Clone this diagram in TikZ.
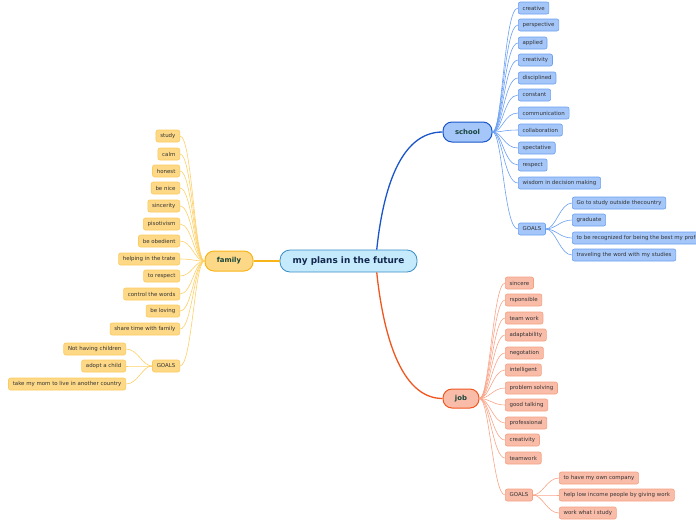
\documentclass[tikz,border=0pt]{standalone}
\usepackage{fontspec}
\setmainfont{DejaVu Sans}
\usetikzlibrary{calc}
\definecolor{sfill}{HTML}{A4C6F9}
\definecolor{sdraw}{HTML}{6AA0F0}
\definecolor{sline}{HTML}{6A9FF2}
\definecolor{smain}{HTML}{1A56C9}
\definecolor{jfill}{HTML}{F9BCA9}
\definecolor{jdraw}{HTML}{F5A081}
\definecolor{jline}{HTML}{F9A489}
\definecolor{jmain}{HTML}{F0561F}
\definecolor{ffill}{HTML}{FDD886}
\definecolor{fdraw}{HTML}{FBCB5E}
\definecolor{fline}{HTML}{FDD068}
\definecolor{fmain}{HTML}{F8B51A}
\definecolor{cfill}{HTML}{C4EAFB}
\definecolor{cdraw}{HTML}{3A8EC6}
\definecolor{ctext}{HTML}{14284F}
\definecolor{mtext}{HTML}{17453A}
\definecolor{ltext}{HTML}{333333}
\tikzset{
  leaf/.style={rounded corners=2pt, line width=0.6pt, minimum height=12pt, inner xsep=4.3pt, inner ysep=0pt, font=\fontsize{5.45}{6}\selectfont, text=ltext},
  sleaf/.style={leaf, draw=sdraw, fill=sfill, anchor=west},
  jleaf/.style={leaf, draw=jdraw, fill=jfill, anchor=west},
  fleaf/.style={leaf, draw=fdraw, fill=ffill, anchor=east},
  mainbox/.style={rounded corners=9pt, line width=1pt, minimum height=20pt, inner sep=0pt, font=\fontsize{6.9}{8}\bfseries, text=mtext},
  slink/.style={draw=sline, line width=0.6pt},
  jlink/.style={draw=jline, line width=0.6pt},
  flink/.style={draw=fline, line width=0.6pt},
}
\begin{document}
\begin{tikzpicture}[x=1pt,y=1pt]
\useasboundingbox (0,0) rectangle (696,-520);
\clip (0,0) rectangle (696,-520);
% root
\node[rounded corners=10pt, draw=cdraw, fill=cfill, line width=0.8pt, minimum width=137pt, minimum height=22pt, inner sep=0pt, font=\fontsize{8.9}{10}\bfseries, text=ctext] (center) at (348.5,-261) {my plans in the future};
\node[mainbox, draw=smain, fill=sfill, minimum width=49pt] (school) at (467.5,-132) {school};
\node[mainbox, draw=jmain, fill=jfill, minimum width=36pt, minimum height=19pt] (job) at (461,-398.5) {job};
\node[mainbox, draw=fmain, fill=ffill, minimum width=48pt] (family) at (229,-261) {family};
\draw[smain, line width=1.3pt] (center.22) .. controls (383,-190) and (400,-132) .. (school.west);
\draw[jmain, line width=1.3pt] (center.-22) .. controls (383,-332) and (400,-398.5) .. (job.west);
\draw[fmain, line width=1.3pt] (center.west) -- (family.east);
% school
\foreach \n/\t/\y in {s1/creative/8, s2/perspective/25, s3/applied/43, s4/creativity/60, s5/disciplined/78, s6/constant/95, s7/communication/113, s8/collaboration/130, s9/spectative/148, s10/respect/165, s11/wisdom in decision making/183, sg/GOALS/229}{
  \node[sleaf] (\n) at (518,-\y) {\t};
  \draw[slink] (school.east) .. controls ($(school.east)+(10,0)$) and ($(\n.west)+(-14,0)$) .. (\n.west);
}
\foreach \n/\t/\y in {sg1/Go to study outside thecountry/203, sg2/graduate/220, sg3/to be recognized for being the best my profession/238, sg4/traveling the word with my studies/255}{
  \node[sleaf] (\n) at (572,-\y) {\t};
  \draw[slink] (sg.east) .. controls ($(sg.east)+(10,0)$) and ($(\n.west)+(-12,0)$) .. (\n.west);
}
% job
\foreach \n/\t/\y in {j1/sincere/283, j2/rsponsible/300, j3/team work/318, j4/adaptability/335, j5/negotation/353, j6/intelligent/370, j7/problem solving/388, j8/good talking/405, j9/professional/423, j10/creativity/440, j11/teamwork/458, jg/GOALS/495}{
  \node[jleaf] (\n) at (505,-\y) {\t};
  \draw[jlink] (job.east) .. controls ($(job.east)+(10,0)$) and ($(\n.west)+(-12,0)$) .. (\n.west);
}
\foreach \n/\t/\y in {jg1/to have my own company/478, jg2/help low income people by giving work/495, jg3/work what i study/513}{
  \node[jleaf] (\n) at (559,-\y) {\t};
  \draw[jlink] (jg.east) .. controls ($(jg.east)+(10,0)$) and ($(\n.west)+(-12,0)$) .. (\n.west);
}
% family
\foreach \n/\t/\y in {f1/study/136, f2/calm/154, f3/honest/171, f4/be nice/188, f5/sincerity/206, f6/pisotivism/224, f7/be obedient/241, f8/helping in the trate/259, f9/to respect/276, f10/control the words/294, f11/be loving/311, f12/share time with family/329, fg/GOALS/366}{
  \node[fleaf] (\n) at (180,-\y) {\t};
  \draw[flink] (family.west) .. controls ($(family.west)+(-10,0)$) and ($(\n.east)+(12,0)$) .. (\n.east);
}
\foreach \n/\t/\y in {fg1/Not having children/349, fg2/adopt a child/366, fg3/take my mom to live in another country/384}{
  \node[fleaf] (\n) at (126,-\y) {\t};
  \draw[flink] (fg.west) .. controls ($(fg.west)+(-10,0)$) and ($(\n.east)+(12,0)$) .. (\n.east);
}
\end{tikzpicture}
\end{document}
